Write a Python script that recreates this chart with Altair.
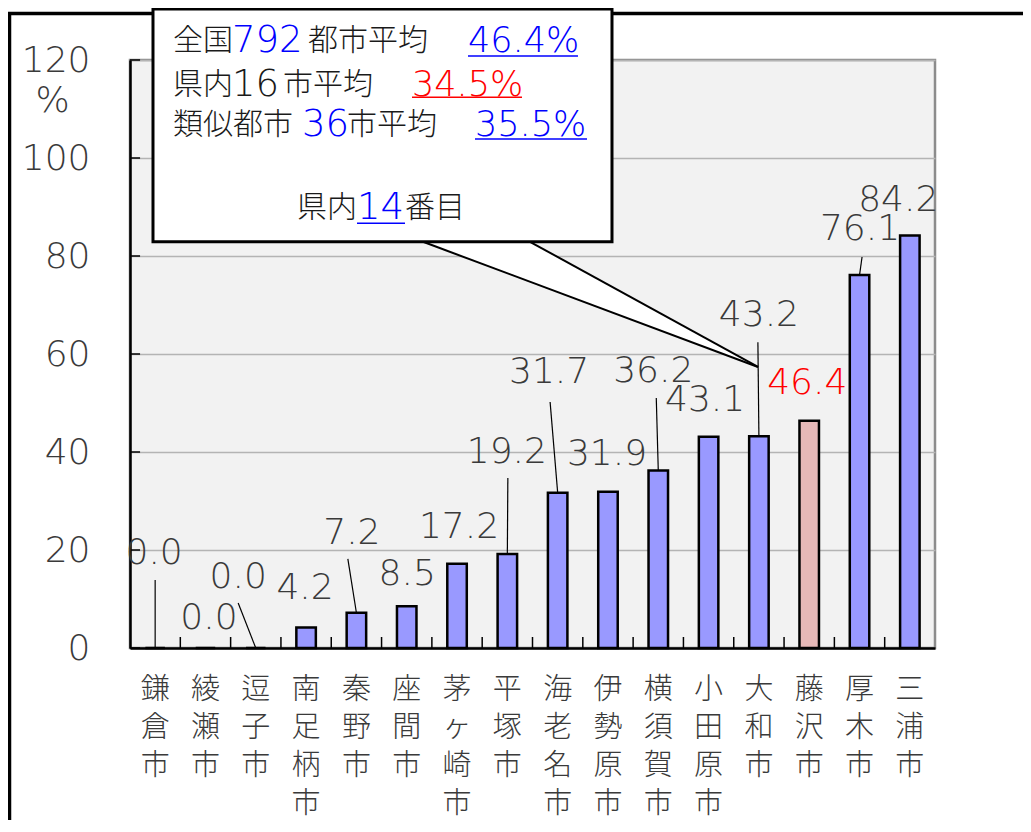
import altair as alt
import pandas as pd

# ---------------- data ----------------
cities = ["鎌倉市", "綾瀬市", "逗子市", "南足柄市", "秦野市", "座間市", "茅ヶ崎市", "平塚市",
          "海老名市", "伊勢原市", "横須賀市", "小田原市", "大和市", "藤沢市", "厚木市", "三浦市"]
values = [0.0, 0.0, 0.0, 4.2, 7.2, 8.5, 17.2, 19.2, 31.7, 31.9, 36.2, 43.1, 43.2, 46.4, 76.1, 84.2]
highlight_city = "藤沢市"

# value-label placement (x in category-band units, y in %)
label_u = [0.48, 1.57, 2.15, 3.48, 4.41, 5.51, 6.54, 7.49, 8.33, 9.48, 10.40, 11.43, 12.50, 13.46, 14.51, 15.27]
label_y = [19.4, 6.1, 14.5, 12.2, 23.5, 15.1, 24.7, 40.0, 56.3, 39.6, 56.5, 50.6, 68.0, 54.1, 85.5, 91.4]

# leader lines: from label end to the bar top
leader_city = ["鎌倉市", "逗子市", "秦野市", "平塚市", "海老名市", "横須賀市", "大和市", "厚木市"]
leader_top_u = [0.50, 2.15, 4.33, 7.51, 8.35, 10.46, 12.48, 14.55]
leader_top_y = [13.9, 9.2, 18.2, 34.7, 50.2, 51.0, 62.4, 79.8]

# callout texts
callout_text = ["全国", "792", "都市平均", "46.4%",
                "県内", "16", "市平均", "34.5%",
                "類似都市", "36", "市平均", "35.5%",
                "県内", "14", "番目"]
callout_color = ["#1a1a1a", "#0000ff", "#1a1a1a", "#0000ff",
                 "#1a1a1a", "#1a1a1a", "#1a1a1a", "#ff0000",
                 "#1a1a1a", "#0000ff", "#1a1a1a", "#0000ff",
                 "#1a1a1a", "#0000ff", "#1a1a1a"]
callout_size = [30, 37, 30, 35,
                30, 37, 30, 35,
                30, 37, 30, 35,
                30, 37, 30]
callout_u = [0.855, 2.027, 3.538, 6.718,
             0.855, 2.027, 3.041, 5.605,
             0.855, 3.419, 4.313, 6.857,
             3.319, 4.512, 5.466]
callout_y = [123.8, 123.8, 123.8, 123.8,
             115.0, 115.0, 115.0, 115.0,
             106.7, 106.7, 106.7, 106.7,
             89.7, 89.7, 89.7]
underline_u1 = [6.718, 5.605, 6.857, 4.512]
underline_u2 = [8.904, 7.791, 9.083, 5.466]
underline_y = [120.8, 112.4, 103.9, 86.7]
underline_color = ["#0000ff", "#ff0000", "#0000ff", "#0000ff"]

box_u = [0.457, 9.580]
box_y = [82.9, 130.4]
pointer_u = [5.824, 7.950, 12.482]
pointer_y = [82.9, 82.9, 57.35]

y_ticks = [0, 20, 40, 60, 80, 100, 120]

# ---------------- tables ----------------
n = len(cities)
UDOM = [0, n]
BAR_BLUE = "#9999ff"
BAR_PINK = "#e6b8b7"
TXT = "#3a3a3a"

bars = pd.DataFrame({
    "city": cities,
    "value": values,
    "fill": [BAR_PINK if c == highlight_city else BAR_BLUE for c in cities],
})
labels = pd.DataFrame({
    "txt": [f"{v:.1f}" for v in values],
    "u": label_u,
    "y": label_y,
    "col": ["#ff0000" if c == highlight_city else TXT for c in cities],
})
leaders = pd.DataFrame({
    "u": leader_top_u,
    "y": leader_top_y,
    "u2": [cities.index(c) + 0.5 for c in leader_city],
    "y2": [values[cities.index(c)] for c in leader_city],
})
xt = pd.DataFrame({"u": list(range(1, n)), "y": [0] * (n - 1), "y2": [2.25] * (n - 1)})
yt = pd.DataFrame({"y": y_ticks, "u": [0] * len(y_ticks), "u2": [0.2] * len(y_ticks)})

callout = pd.DataFrame({"txt": callout_text, "col": callout_color, "size": callout_size,
                        "u": callout_u, "y": callout_y})
underl = pd.DataFrame({"u": underline_u1, "u2": underline_u2, "y": underline_y, "col": underline_color})
box = pd.DataFrame({"u": [box_u[0]], "u2": [box_u[1]], "y": [box_y[0]], "y2": [box_y[1]]})
# pointer polygon as an area (lower edge: line base-left -> tip)
slope = (pointer_y[2] - pointer_y[0]) / (pointer_u[2] - pointer_u[0])
ptr = pd.DataFrame({
    "u": pointer_u,
    "y": pointer_y,
    "y2": [pointer_y[0], pointer_y[0] + slope * (pointer_u[1] - pointer_u[0]), pointer_y[2]],
})
ptr_lines = pd.DataFrame({"u": pointer_u[:2], "y": pointer_y[:2],
                          "u2": [pointer_u[2]] * 2, "y2": [pointer_y[2]] * 2})

yscale = alt.Scale(domain=[0, 120], nice=False, zero=False)


def ux(field="u"):
    return alt.X(f"{field}:Q", scale=alt.Scale(domain=UDOM, nice=False, zero=False), axis=None)


def yy(field="y"):
    return alt.Y(f"{field}:Q", scale=yscale, title="%")


frame = alt.Chart(pd.DataFrame({"k": [0]})).mark_rect(
    filled=False, stroke="black", strokeWidth=3.5
).encode(x=alt.value(-120.5), x2=alt.value(1400), y=alt.value(-46.5), y2=alt.value(1400))

bar_layer = alt.Chart(bars).mark_bar(width=19.5, stroke="black", strokeWidth=2.5).encode(
    x=alt.X("city:N", sort=cities,
            scale=alt.Scale(paddingInner=0, paddingOuter=0),
            axis=alt.Axis(title=None, labelAngle=0, labelExpr="split(datum.label, '')",
                          labelFont="Noto Sans CJK JP", labelFontSize=29, labelLineHeight=38,
                          labelFontWeight=300,
                          labelColor=TXT, labelBaseline="top", labelAlign="center",
                          labelPadding=27, ticks=False, tickSize=0,
                          domainColor="black", domainWidth=2.5, grid=False)),
    y=alt.Y("value:Q", scale=yscale,
            axis=alt.Axis(values=y_ticks, grid=True, gridColor="#b4b4b4", gridWidth=1.5,
                          ticks=False, tickSize=0, labelPadding=40,
                          labelFont="DejaVu Sans", labelFontSize=36, labelColor=TXT,
                          labelFontWeight=200,
                          domainColor="black", domainWidth=2.5,
                          title="%", titleAngle=0, titleX=-78, titleY=40,
                          titleFont="DejaVu Sans", titleFontSize=36, titleFontWeight=200,
                          titleColor=TXT, titleAlign="center", titleBaseline="middle")),
    fill=alt.Fill("fill:N", scale=None),
)

xtick_layer = alt.Chart(xt).mark_rule(color="black", strokeWidth=1.5).encode(
    x=ux(), y=yy(), y2="y2:Q")
ytick_layer = alt.Chart(yt).mark_rule(color="black", strokeWidth=1.5).encode(
    x=ux(), x2="u2:Q", y=yy())

leader_layer = alt.Chart(leaders).mark_rule(color="black", strokeWidth=1.2).encode(
    x=ux(), x2="u2:Q", y=yy(), y2="y2:Q")

label_layer = alt.Chart(labels).mark_text(
    font="DejaVu Sans", fontSize=36, fontWeight=200, align="center", baseline="middle"
).encode(x=ux(), y=yy(), text="txt:N", fill=alt.Fill("col:N", scale=None))

ptr_area = alt.Chart(ptr).mark_area(fill="white", clip=False).encode(
    x=ux(), y=yy(), y2="y2:Q")
ptr_rules = alt.Chart(ptr_lines).mark_rule(color="black", strokeWidth=2).encode(
    x=ux(), x2="u2:Q", y=yy(), y2="y2:Q")
box_layer = alt.Chart(box).mark_rect(fill="white", stroke="black", strokeWidth=3).encode(
    x=ux(), x2="u2:Q", y=yy(), y2="y2:Q")
callout_layer = alt.Chart(callout).mark_text(
    font="DejaVu Sans, Noto Sans CJK JP", fontWeight=300, align="left", baseline="middle"
).encode(x=ux(), y=yy(), text="txt:N", fill=alt.Fill("col:N", scale=None),
         size=alt.Size("size:Q", scale=None))
underline_layer = alt.Chart(underl).mark_rule(strokeWidth=1.5).encode(
    x=ux(), x2="u2:Q", y=yy(), color=alt.Color("col:N", scale=None))

chart = alt.layer(
    frame, bar_layer, xtick_layer, ytick_layer, leader_layer, label_layer,
    ptr_area, ptr_rules, box_layer, callout_layer, underline_layer
).resolve_scale(x="independent").properties(
    width=805, height=588,
    autosize=alt.AutoSizeParams(type="none"),
    padding={"left": 122, "top": 52, "right": 88, "bottom": 172},
    background="white",
).configure_view(fill="#f2f2f2", stroke="#8c8c8c", strokeWidth=2.5)

chart.save("out.html", embed_options={"renderer": "svg", "actions": False})
